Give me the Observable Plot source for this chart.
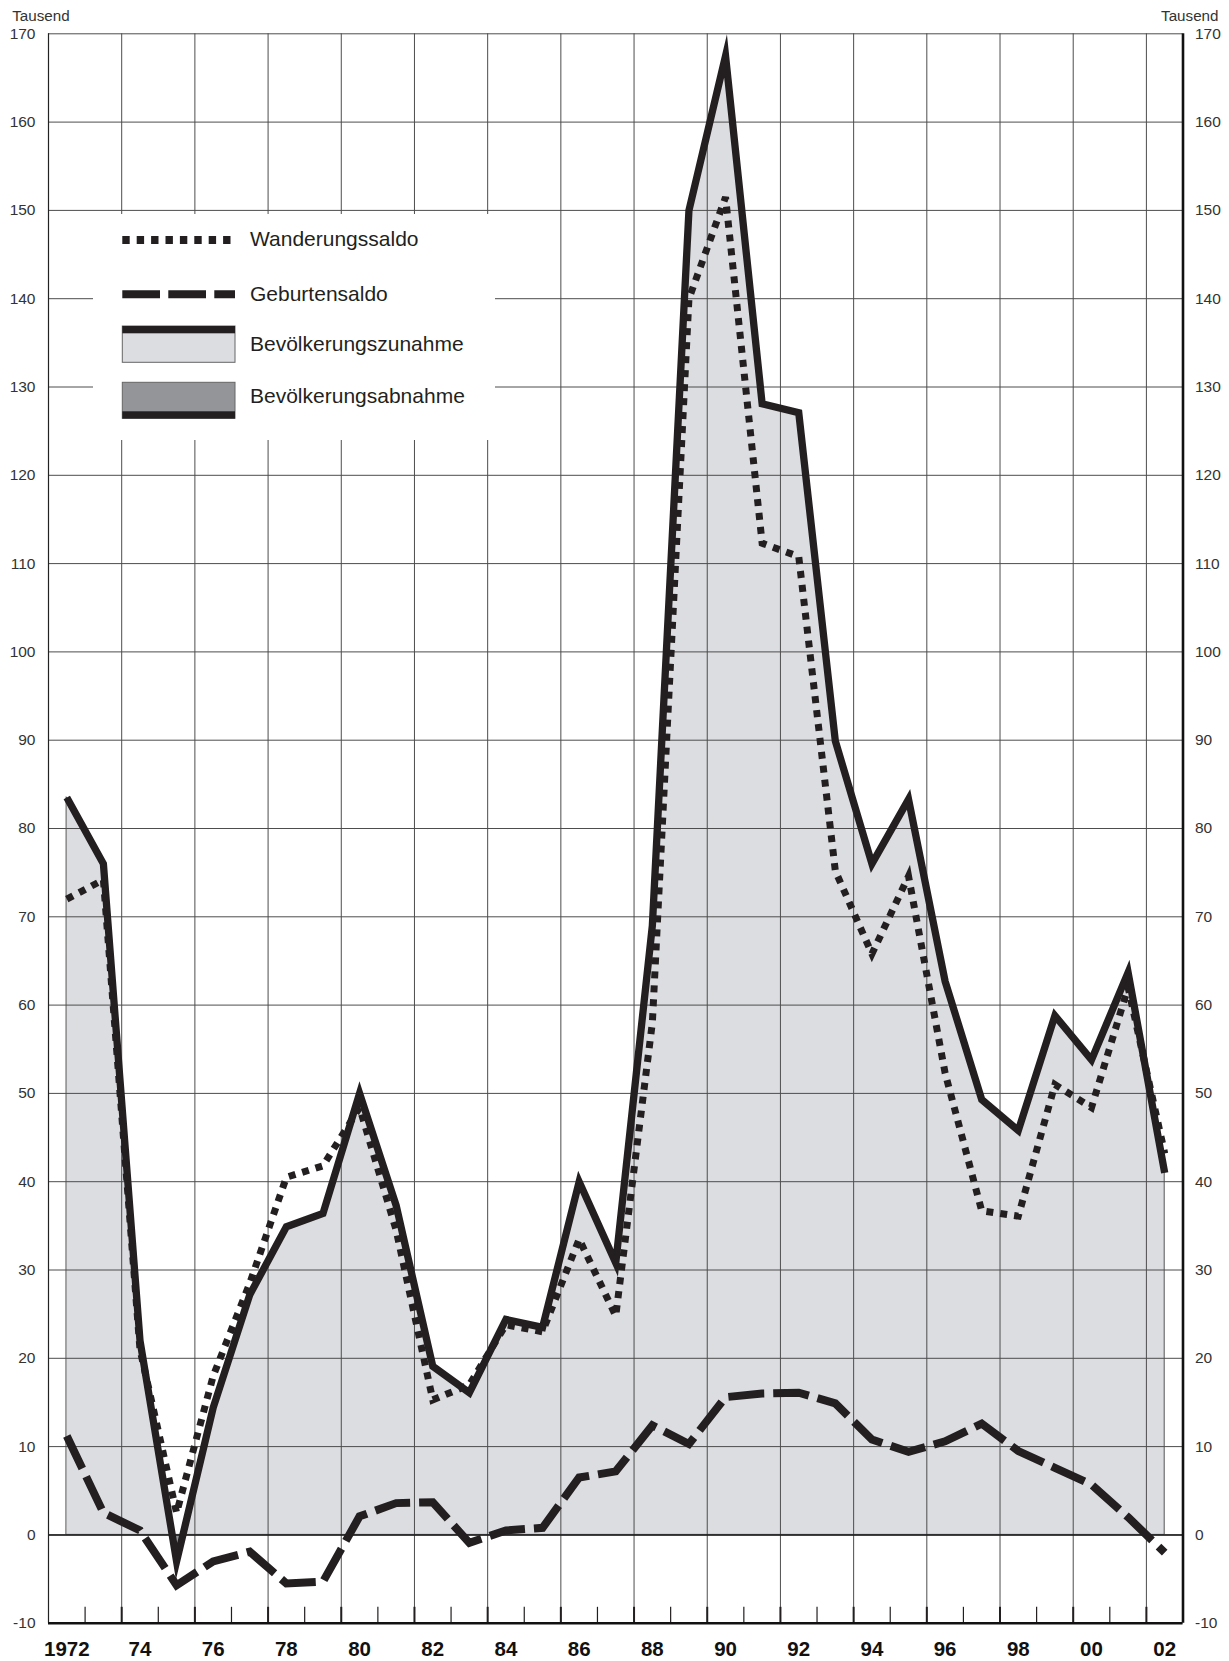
<!DOCTYPE html>
<html><head><meta charset="utf-8">
<script src="https://cdn.jsdelivr.net/npm/d3@7"></script>
<script src="https://cdn.jsdelivr.net/npm/@observablehq/plot@0.6"></script>
<style>
body{margin:0;background:#fff;}
#wrap{position:relative;width:1229px;height:1661px;font-family:"Liberation Sans",Arial,Helvetica,sans-serif;}
#wrap > svg{display:block;}
#legend{position:absolute;left:0;top:0;pointer-events:none;}
</style></head><body><div id="wrap"></div>
<script>
// ---- data (Tausend) ----
const years = [1972,1973,1974,1975,1976,1977,1978,1979,1980,1981,1982,1983,1984,1985,1986,1987,1988,1989,1990,1991,1992,1993,1994,1995,1996,1997,1998,1999,2000,2001,2002];
const wanderungssaldo = [72,74.2,21,2.5,18,28.5,40.5,41.8,48.4,34.5,15.3,17,23.8,23,33.5,24.8,58,140,151.5,112.3,110.8,75.2,65.8,74.6,52.3,36.7,36.1,51,48.4,62,43.2];
const geburtensaldo = [11.2,2.5,0.5,-5.7,-3,-1.9,-5.5,-5.3,2.1,3.6,3.7,-0.9,0.5,0.8,6.5,7.2,12.4,10.3,15.6,16,16.1,14.9,10.8,9.4,10.6,12.6,9.5,7.6,5.7,2,-2];
const bevoelkerung = [83.5,76,22,-3,14.4,27.2,34.9,36.4,50,37.3,19.1,16.1,24.4,23.5,40,30.8,69,150,167.5,128.1,127.1,89.9,76,83.3,62.7,49.3,45.8,58.8,53.8,63.7,41];

const yTicks = [-10,0,10,20,30,40,50,60,70,80,90,100,110,120,130,140,150,160,170];
const xLabelYears = [1972,1974,1976,1978,1980,1982,1984,1986,1988,1990,1992,1994,1996,1998,2000,2002];
const xLabelTexts = ["1972","74","76","78","80","82","84","86","88","90","92","94","96","98","00","02"];
const xGrid = [1973.5,1975.5,1977.5,1979.5,1981.5,1983.5,1985.5,1987.5,1989.5,1991.5,1993.5,1995.5,1997.5,1999.5,2001.5];
const xMinorTicks = [1972.5,1974.5,1976.5,1978.5,1980.5,1982.5,1984.5,1986.5,1988.5,1990.5,1992.5,1994.5,1996.5,1998.5,2000.5];

const legendLabels = ["Wanderungssaldo","Geburtensaldo","Bevölkerungszunahme","Bevölkerungsabnahme"];
const unitLabel = "Tausend";

const rows = years.map((year, i) => ({year, w: wanderungssaldo[i], g: geburtensaldo[i], t: bevoelkerung[i]}));
const labelMap = new Map(xLabelYears.map((y, i) => [y, xLabelTexts[i]]));

const W = 1229, H = 1661;
const MT = 33.3, MB = 38.3;
const INK = "#231f20";
const GRID = "#4d4d4d";
const font = "Liberation Sans, Arial, Helvetica, sans-serif";

const chart = Plot.plot({
  width: W, height: H,
  marginLeft: 48, marginRight: 46.5, marginTop: MT, marginBottom: MB,
  x: {domain: [1971.5, 2002.5]},
  y: {domain: [-10, 170]},
  style: {fontFamily: font, background: "#fff", overflow: "visible"},
  marks: [
    Plot.areaY(rows, {x: "year", y1: 0, y2: "t", fill: "#dcdde0", stroke: "#555", strokeWidth: 1}),
    Plot.areaY(rows, {x: "year", y1: 0, y2: "t", fill: "#939598"}),
    Plot.ruleY(yTicks, {stroke: GRID, strokeWidth: 1}),
    Plot.ruleX(xGrid, {stroke: GRID, strokeWidth: 1}),
    Plot.ruleX(xGrid, {y1: -10, y2: -8.2, stroke: INK, strokeWidth: 2}),
    Plot.ruleX(xMinorTicks, {y1: -10, y2: -8.2, stroke: INK, strokeWidth: 1.2}),
    Plot.ruleY([0], {stroke: "#1a1a1a", strokeWidth: 1.5}),
    Plot.ruleX([1971.5], {stroke: "#222", strokeWidth: 1.2}),
    Plot.ruleX([2002.5], {stroke: "#111", strokeWidth: 2.6}),
    Plot.ruleY([-10], {stroke: "#111", strokeWidth: 2.4}),
    Plot.line(rows, {x: "year", y: "t", stroke: INK, strokeWidth: 7.3, strokeLinejoin: "miter", strokeMiterlimit: 10, strokeLinecap: "butt"}),
    Plot.line(rows, {x: "year", y: "w", stroke: INK, strokeWidth: 7, strokeDasharray: "7,7", strokeLinejoin: "miter", strokeMiterlimit: 4, strokeLinecap: "butt"}),
    Plot.line(rows, {x: "year", y: "g", stroke: INK, strokeWidth: 8, strokeDasharray: "36,9", strokeLinejoin: "miter", strokeMiterlimit: 4, strokeLinecap: "butt"}),
    Plot.axisY(yTicks, {anchor: "left", tickSize: 0, tickPadding: 13, fontSize: 15.5, fill: "#333", label: null, tickFormat: d => String(d)}),
    Plot.axisY(yTicks, {anchor: "right", tickSize: 0, tickPadding: 12, fontSize: 15.5, fill: "#333", label: null, tickFormat: d => String(d)}),
    Plot.axisX(xLabelYears, {anchor: "bottom", tickSize: 0, tickPadding: 18.5, tickFormat: d => labelMap.get(d), fontSize: 20.5, fontWeight: "bold", fill: "#111", label: null}),
    Plot.text([unitLabel], {frameAnchor: "top-left", dx: -36.3, dy: -17.8, textAnchor: "start", lineAnchor: "middle", fontSize: 15.2, fill: "#333"}),
    Plot.text([unitLabel], {frameAnchor: "top-right", dx: 35.5, dy: -17.8, textAnchor: "end", lineAnchor: "middle", fontSize: 15.2, fill: "#333"})
  ]
});

// clip the area into increase (above 0) and decrease (below 0)
const svg = d3.select(chart);
let y0 = NaN;
try { y0 = chart.scale("y").apply(0); } catch (e) {}
if (!isFinite(y0)) y0 = MT + (170 / 180) * (H - MT - MB);
const defs = svg.insert("defs", ":first-child");
defs.append("clipPath").attr("id", "clipPosArea").attr("clipPathUnits", "userSpaceOnUse")
  .append("rect").attr("x", -10).attr("y", -10).attr("width", W + 20).attr("height", y0 + 10);
defs.append("clipPath").attr("id", "clipNegArea").attr("clipPathUnits", "userSpaceOnUse")
  .append("rect").attr("x", -10).attr("y", y0).attr("width", W + 20).attr("height", H - y0 + 10);
const areaGroups = svg.selectAll('g[aria-label="area"]').nodes();
if (areaGroups.length >= 2) {
  d3.select(areaGroups[0]).attr("clip-path", "url(#clipPosArea)");
  d3.select(areaGroups[1]).attr("clip-path", "url(#clipNegArea)");
}

const wrap = document.getElementById("wrap");
wrap.appendChild(chart);

// ---- legend overlay (inside plot area, white box) ----
const lg = d3.select(wrap).append("svg").attr("id", "legend").attr("width", W).attr("height", H);
lg.append("rect").attr("x", 93).attr("y", 214).attr("width", 402).attr("height", 226).attr("fill", "#fff");
const sx0 = 122.3, sx1 = 235;
lg.append("line").attr("x1", sx0).attr("x2", sx1 - 4).attr("y1", 240).attr("y2", 240)
  .attr("stroke", INK).attr("stroke-width", 7.8).attr("stroke-dasharray", "7.4,7");
lg.append("line").attr("x1", sx0).attr("x2", sx1).attr("y1", 294.2).attr("y2", 294.2)
  .attr("stroke", INK).attr("stroke-width", 8).attr("stroke-dasharray", "37.7,8.3");
lg.append("rect").attr("x", sx0).attr("y", 326).attr("width", sx1 - sx0).attr("height", 36.3)
  .attr("fill", "#dcdde0").attr("stroke", "#666").attr("stroke-width", 1);
lg.append("rect").attr("x", sx0).attr("y", 326).attr("width", sx1 - sx0).attr("height", 7.3).attr("fill", INK);
lg.append("rect").attr("x", sx0).attr("y", 382.3).attr("width", sx1 - sx0).attr("height", 36)
  .attr("fill", "#939598").attr("stroke", "#666").attr("stroke-width", 1);
lg.append("rect").attr("x", sx0).attr("y", 411.3).attr("width", sx1 - sx0).attr("height", 7.3).attr("fill", INK);
const baselines = [246, 301, 351, 403.3];
legendLabels.forEach((t, i) => {
  lg.append("text").attr("x", 250).attr("y", baselines[i]).attr("font-family", font)
    .attr("font-size", 21).attr("fill", INK).text(t);
});
</script>
</body></html>
